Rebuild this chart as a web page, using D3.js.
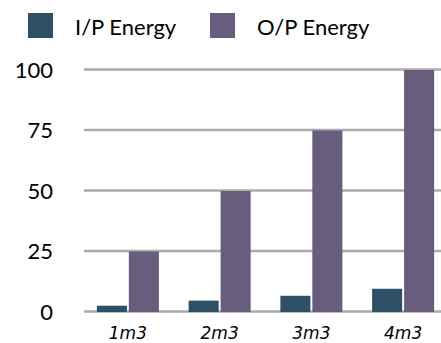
<!DOCTYPE html>
<html>
<head>
<meta charset="utf-8">
<script src="https://cdn.jsdelivr.net/npm/d3@7"></script>
<style>
  html, body { margin: 0; padding: 0; background: #fff; }
  svg { display: block; }
</style>
</head>
<body>
<svg id="chart" width="441" height="343"></svg>
<script>
// Energy input vs output per volume
const categories = ["1m3", "2m3", "3m3", "4m3"];
const seriesNames = ["I/P Energy", "O/P Energy"];
const inputEnergy = [2.6, 4.7, 6.7, 9.6];
const outputEnergy = [25, 50, 75, 100];
const yTicks = [0, 25, 50, 75, 100];
const colors = ["#2E5066", "#695D7D"];

const rows = categories.map((c, i) => ({ cat: c, values: [inputEnergy[i], outputEnergy[i]] }));

const svg = d3.select("#chart");

const x = d3.scaleBand().domain(categories).range([82, 449]).paddingInner(0.324).paddingOuter(0.162);
const x1 = d3.scaleBand().domain(seriesNames).range([0, x.bandwidth()]).paddingInner(0.06);
const y = d3.scaleLinear().domain([0, 100]).range([312, 70]);

// Gridlines
svg.append("g")
  .selectAll("line")
  .data(yTicks)
  .join("line")
  .attr("x1", 84).attr("x2", 441)
  .attr("y1", d => y(d) - 0.5).attr("y2", d => y(d) - 0.5)
  .attr("stroke", "#ababab")
  .attr("stroke-width", 2.5);

// Y axis labels
const yAxis = d3.axisLeft(y).tickValues(yTicks).tickSize(0).tickPadding(0);
const yg = svg.append("g").attr("transform", "translate(53,0)").call(yAxis);
yg.select(".domain").remove();
yg.selectAll("text")
  .attr("font-family", "Lato, 'Open Sans', sans-serif")
  .attr("font-size", 22)
  .attr("fill", "#000");

// Bars
svg.append("g")
  .selectAll("g")
  .data(rows)
  .join("g")
  .attr("transform", d => `translate(${x(d.cat)},0)`)
  .selectAll("rect")
  .data(d => d.values.map((v, i) => ({ name: seriesNames[i], v, i })))
  .join("rect")
  .attr("x", d => x1(d.name))
  .attr("width", x1.bandwidth())
  .attr("y", d => y(d.v))
  .attr("height", d => y(0) - y(d.v))
  .attr("fill", d => colors[d.i]);

// X axis labels
const xAxis = d3.axisBottom(x).tickSize(0).tickPadding(0);
const xg = svg.append("g").attr("transform", "translate(0,325)").call(xAxis);
xg.select(".domain").remove();
xg.selectAll("text")
  .attr("dy", "0.8em")
  .attr("font-family", "'DejaVu Sans', sans-serif")
  .attr("font-style", "italic")
  .attr("font-size", 17)
  .attr("fill", "#000");

// Legend
const legendX = [28, 210];
const lg = svg.append("g")
  .selectAll("g")
  .data(seriesNames)
  .join("g")
  .attr("transform", (d, i) => `translate(${legendX[i]},13)`);
lg.append("rect").attr("width", 25).attr("height", 25).attr("fill", (d, i) => colors[i]);
lg.append("text")
  .attr("x", 47).attr("y", 22)
  .attr("font-family", "Lato, 'Open Sans', sans-serif")
  .attr("font-size", 22)
  .attr("fill", "#000")
  .text(d => d);
</script>
</body>
</html>
